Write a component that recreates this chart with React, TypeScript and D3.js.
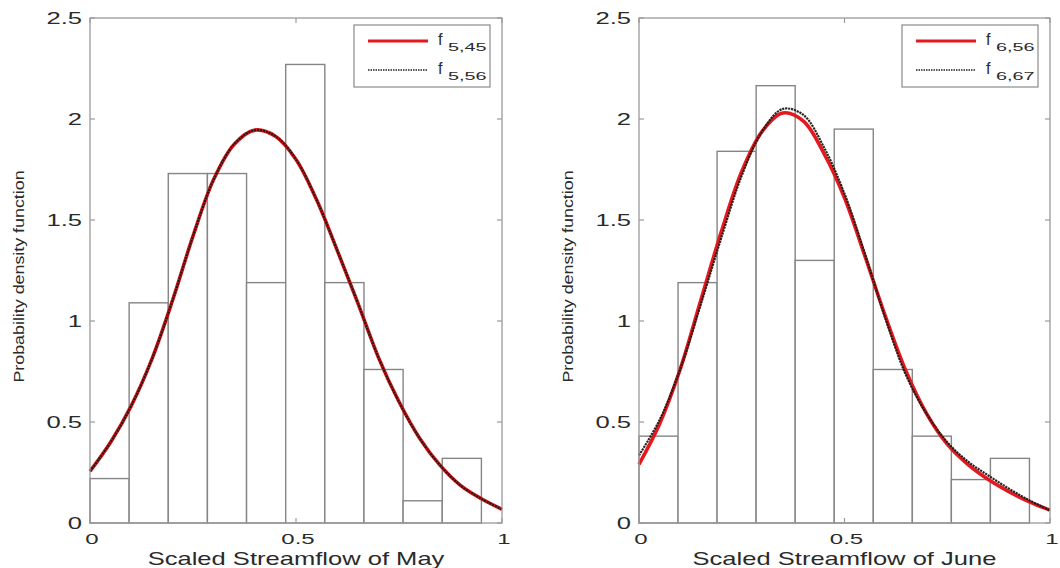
import React from "react";
import * as d3 from "d3";

// ---- data ----
const binEdges = [0, 0.095, 0.19, 0.285, 0.38, 0.475, 0.57, 0.665, 0.76, 0.855, 0.95];
const mayDensity = [0.22, 1.09, 1.73, 1.73, 1.19, 2.27, 1.19, 0.76, 0.11, 0.32];
const juneDensity = [0.43, 1.19, 1.84, 2.165, 1.3, 1.95, 0.76, 0.43, 0.215, 0.32];

const curveX = [0, 0.05, 0.1, 0.15, 0.2, 0.25, 0.3, 0.35, 0.4, 0.45, 0.5, 0.55, 0.6, 0.65, 0.7, 0.75, 0.8, 0.85, 0.9, 0.95, 1.0];
const f545 = [0.256, 0.4, 0.58, 0.81, 1.1, 1.42, 1.7, 1.875, 1.945, 1.915, 1.8, 1.6, 1.35, 1.09, 0.82, 0.6, 0.42, 0.285, 0.185, 0.12, 0.068];
const f556 = [0.256, 0.4, 0.58, 0.81, 1.1, 1.42, 1.7, 1.875, 1.945, 1.915, 1.8, 1.6, 1.35, 1.09, 0.82, 0.6, 0.42, 0.285, 0.185, 0.12, 0.068];
const f656 = [0.29, 0.49, 0.76, 1.1, 1.44, 1.74, 1.94, 2.03, 1.99, 1.83, 1.61, 1.32, 1.02, 0.75, 0.54, 0.39, 0.29, 0.215, 0.155, 0.105, 0.064];
const f667 = [0.335, 0.51, 0.76, 1.08, 1.41, 1.72, 1.94, 2.05, 2.02, 1.86, 1.63, 1.33, 1.01, 0.73, 0.54, 0.4, 0.305, 0.235, 0.17, 0.112, 0.062];

const yTicks = [0, 0.5, 1, 1.5, 2, 2.5];
const yTickLabels = ["0", "0.5", "1", "1.5", "2", "2.5"];
const xTicks = [0, 0.5, 1];
const xTickLabels = ["0", "0.5", "1"];

const yLabel = "Probability density function";

const RED = "#e3191f";
const FONT = "'Liberation Sans', Arial, sans-serif";
const TEXT = "#2a2a2a";

function Panel(props: {
  x0: number; x1: number; top: number; bottom: number;
  density: number[]; red: number[]; black: number[];
  xLabel: string; legRed: [string, string]; legBlack: [string, string];
}) {
  const { x0, x1, top, bottom, density, red, black, xLabel, legRed, legBlack } = props;
  const x = d3.scaleLinear().domain([0, 1]).range([x0, x1]);
  const y = d3.scaleLinear().domain([0, 2.5]).range([bottom, top]);
  const line = d3.line<number>()
    .x((_, i) => x(curveX[i])).y(d => y(d))
    .curve(d3.curveCatmullRom.alpha(0.5));
  const redPath = line(red) || "";
  const blackPath = line(black) || "";

  const lx0 = x1 - 148, lx1 = x1 - 12, ly0 = top + 7, ly1 = top + 69;
  const tickLen = 5;
  return (
    <g>
      <rect x={x0} y={top} width={x1 - x0} height={bottom - top} fill="#fff" />
      {density.map((d, i) => (
        <rect key={i} x={x(binEdges[i])} y={y(d)} width={x(binEdges[i + 1]) - x(binEdges[i])}
          height={y(0) - y(d)} fill="#fff" stroke="#858585" strokeWidth={1.4} />
      ))}
      <path d={redPath} fill="none" stroke={RED} strokeWidth={3.6} />
      <path d={blackPath} fill="none" stroke="#1c1410" strokeWidth={2.2} strokeDasharray="2.2,0.8" opacity={0.92} />
      {/* frame */}
      <rect x={x0} y={top} width={x1 - x0} height={bottom - top} fill="none" stroke="#9a9a9a" strokeWidth={1.3} />
      {yTicks.map((t, i) => (
        <g key={"yt" + i}>
          <line x1={x0} x2={x0 + tickLen} y1={y(t)} y2={y(t)} stroke="#9a9a9a" strokeWidth={1.2} />
          <line x1={x1} x2={x1 - tickLen} y1={y(t)} y2={y(t)} stroke="#9a9a9a" strokeWidth={1.2} />
          <text transform={`translate(${x0 - 8},${y(t) + 6}) scale(1.6,1)`} textAnchor="end"
            fontFamily={FONT} fontSize={16} fill={TEXT}>{yTickLabels[i]}</text>
        </g>
      ))}
      {xTicks.map((t, i) => (
        <g key={"xt" + i}>
          <line x1={x(t)} x2={x(t)} y1={bottom} y2={bottom - tickLen} stroke="#9a9a9a" strokeWidth={1.2} />
          <line x1={x(t)} x2={x(t)} y1={top} y2={top + tickLen} stroke="#9a9a9a" strokeWidth={1.2} />
          <text transform={`translate(${x(t) + 2},${bottom + 21}) scale(1.6,1)`} textAnchor="middle"
            fontFamily={FONT} fontSize={15} fill={TEXT}>{xTickLabels[i]}</text>
        </g>
      ))}
      <text transform={`translate(${(x0 + x1) / 2},${bottom + 42}) scale(1.42,1)`} textAnchor="middle"
        fontFamily={FONT} fontSize={18} fill={TEXT}>{xLabel}</text>
      <text transform={`translate(${x0 - 66},${(top + bottom) / 2 + 6}) rotate(-90) scale(1.19,1)`} textAnchor="middle"
        fontFamily={FONT} fontSize={15} fill={TEXT}>{yLabel}</text>
      {/* legend */}
      <rect x={lx0} y={ly0} width={lx1 - lx0} height={ly1 - ly0} fill="#fff" stroke="#8a8a8a" strokeWidth={1.2} />
      <line x1={lx0 + 14} x2={lx0 + 74} y1={ly0 + 16} y2={ly0 + 16} stroke={RED} strokeWidth={3} />
      <line x1={lx0 + 14} x2={lx0 + 74} y1={ly0 + 45} y2={ly0 + 45} stroke="#222" strokeWidth={1.6} strokeDasharray="1.5,1" />
      {[legRed, legBlack].map((lab, i) => (
        <g key={"lg" + i}>
          <text x={lx0 + 84} y={ly0 + 20 + i * 29} fontFamily={FONT} fontSize={16} fill={TEXT}>{lab[0]}</text>
          <text transform={`translate(${lx0 + 94},${ly0 + 26 + i * 29}) scale(1.8,1)`} fontFamily={FONT} fontSize={11} fill={TEXT}>{lab[1]}</text>
        </g>
      ))}
    </g>
  );
}

export default function App() {
  return (
    <svg width={1060} height={568} style={{ position: "absolute", left: 0, top: 0, background: "#fff" }}>
      <rect x={0} y={0} width={1060} height={568} fill="#fff" />
      <Panel x0={90} x1={502} top={18} bottom={523} density={mayDensity}
        red={f545} black={f556}
        xLabel="Scaled Streamflow of May" legRed={["f", "5,45"]} legBlack={["f", "5,56"]} />
      <Panel x0={639} x1={1050} top={18} bottom={523} density={juneDensity}
        red={f656} black={f667}
        xLabel="Scaled Streamflow of June" legRed={["f", "6,56"]} legBlack={["f", "6,67"]} />
    </svg>
  );
}
